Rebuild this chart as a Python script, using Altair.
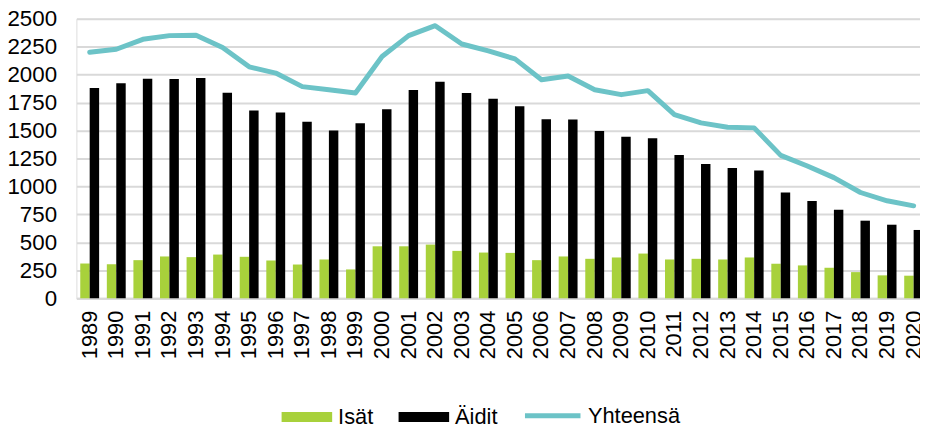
import altair as alt
import pandas as pd

years = [str(y) for y in range(1989, 2021)]
isat = [311, 305, 341, 374, 368, 391, 371, 338, 302, 347, 258, 465, 465, 480, 424, 409,
        406, 341, 374, 353, 365, 400, 347, 353, 347, 365, 309, 294, 273, 234, 205, 202]
aidit = [1880, 1922, 1963, 1960, 1969, 1839, 1679, 1661, 1578, 1500, 1566, 1690, 1862, 1937,
         1836, 1785, 1717, 1601, 1599, 1495, 1444, 1432, 1281, 1201, 1166, 1142, 946, 869,
         792, 694, 658, 611]
yhteensa = [2200, 2227, 2316, 2349, 2352, 2242, 2070, 2014, 1893, 1865, 1836, 2162, 2349,
            2438, 2274, 2212, 2141, 1955, 1988, 1865, 1821, 1857, 1643, 1569, 1530, 1524,
            1278, 1183, 1079, 946, 872, 827]
y_ticks = [0, 250, 500, 750, 1000, 1250, 1500, 1750, 2000, 2250, 2500]

bar_series = ["Isät", "Äidit"]
bar_colors = ["#A8D13B", "#000000"]
line_series = ["Yhteensä"]
line_colors = ["#6CC3C7"]

rows = []
for i, y in enumerate(years):
    rows.append({"year": y, "series": "Isät", "value": isat[i]})
    rows.append({"year": y, "series": "Äidit", "value": aidit[i]})
    rows.append({"year": y, "series": "Yhteensä", "value": yhteensa[i]})
df = pd.DataFrame(rows)

FONT = "Liberation Sans, Arial, sans-serif"

x_enc = alt.X(
    "year:N",
    sort=years,
    title=None,
    scale=alt.Scale(paddingInner=0.29, paddingOuter=0.145),
    axis=alt.Axis(
        labelAngle=-90,
        labelFont=FONT,
        labelFontSize=22,
        labelColor="#000000",
        labelPadding=12,
        labelOverlap=False,
        ticks=False,
        domainColor="#D9D9D9",
        domainWidth=2,
        grid=False,
    ),
)

y_enc = alt.Y(
    "value:Q",
    title=None,
    scale=alt.Scale(domain=[0, 2500], nice=False),
    axis=alt.Axis(
        values=y_ticks,
        tickCount=11,
        format="d",
        labelFont=FONT,
        labelFontSize=22.5,
        labelColor="#000000",
        labelPadding=20,
        labelOverlap=False,
        labelFlush=False,
        ticks=False,
        domain=False,
        gridColor="#D9D9D9",
        gridWidth=2,
    ),
)

bars = alt.Chart(df).transform_filter(
    alt.FieldOneOfPredicate(field="series", oneOf=bar_series)
).mark_bar().encode(
    x=x_enc,
    xOffset=alt.XOffset("series:N", sort=bar_series,
                        scale=alt.Scale(domain=bar_series, paddingInner=0, paddingOuter=0)),
    y=y_enc,
    color=alt.Color(
        "series:N",
        sort=bar_series,
        scale=alt.Scale(domain=bar_series, range=bar_colors),
        legend=alt.Legend(
            title=None,
            orient="none",
            legendX=207,
            legendY=376,
            direction="horizontal",
            columns=2,
            symbolType="M-1,-0.2H1V0.2H-1Z",
            symbolSize=2601,
            symbolStrokeWidth=0,
            symbolOpacity=1,
            labelFont=FONT,
            labelFontSize=22,
            labelColor="#000000",
            labelOffset=6,
            columnPadding=25,
            padding=0,
        ),
    ),
)

line = alt.Chart(df).transform_filter(
    alt.FieldOneOfPredicate(field="series", oneOf=line_series)
).mark_line(strokeWidth=5, strokeCap="round", strokeJoin="round").encode(
    x=x_enc,
    y=y_enc,
    stroke=alt.Stroke(
        "series:N",
        scale=alt.Scale(domain=line_series, range=line_colors),
        legend=alt.Legend(
            title=None,
            orient="none",
            legendX=450,
            legendY=370,
            direction="horizontal",
            symbolType="M-1,0H1",
            symbolSize=3136,
            symbolStrokeWidth=5,
            symbolOpacity=1,
            labelFont=FONT,
            labelFontSize=22,
            labelColor="#000000",
            labelOffset=5,
            padding=0,
        ),
    ),
)

chart = alt.layer(bars, line).resolve_scale(color="independent").properties(
    width=858,
    height=282,
    autosize=alt.AutoSizeParams(type="none"),
    padding={"left": 69, "top": 9, "right": -7, "bottom": 127},
).configure_view(stroke=None).configure(background="white")

chart.save("out.html", embed_options={"renderer": "svg", "actions": False})
